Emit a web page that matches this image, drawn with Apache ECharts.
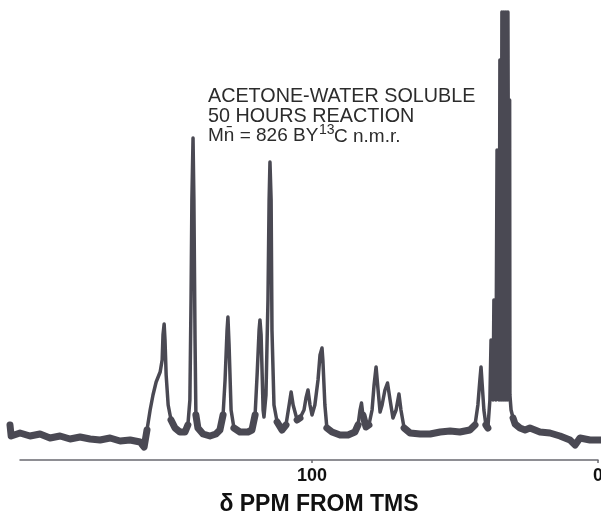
<!DOCTYPE html>
<html>
<head>
<meta charset="utf-8">
<script src="https://cdn.jsdelivr.net/npm/echarts@6/dist/echarts.min.js"></script>
<style>
html,body{margin:0;padding:0;background:#fff;}
#c{width:601px;height:515px;}
</style>
</head>
<body>
<div id="c"></div>
<script>
// chemical shift (ppm from TMS)
var ppm = [205.6,205.2,202.1,198.6,195.1,191.6,188.1,184.6,181.1,177.6,174.1,170.6,167.1,163.6,160.1,158.7,
  157.7,156.6,155.6,154.5,153.8,153.1,152.4,152.1,151.7,151.4,151.0,150.3,149.3,147.9,146.2,144.4,143.4,
  142.7,142.3,142.0,141.6,141.3,140.9,140.6,139.9,138.1,135.7,133.6,132.2,131.1,130.4,129.7,129.4,129.0,
  128.3,127.3,125.2,122.4,121.0,119.9,119.2,118.5,118.2,117.8,117.1,116.8,116.1,115.4,115.0,114.7,114.3,
  114.0,113.3,112.2,110.5,109.1,108.0,107.3,106.6,105.2,104.2,102.8,102.1,101.4,100.7,100.0,99.0,97.9,
  97.2,96.5,96.2,95.5,94.8,93.0,90.2,87.4,85.0,83.9,83.2,82.7,82.2,81.1,80.1,79.0,78.3,77.6,76.9,76.2,
  75.5,74.5,73.6,72.7,71.7,70.6,69.6,68.9,67.8,65.7,62.2,58.7,55.2,51.7,48.3,44.8,43.0,42.0,41.3,40.9,
  40.6,39.9,39.2,38.5,
  37.8,37.4,36.7,36.4,35.7,35.3,34.6,34.3,33.9,33.6,33.2,32.9,32.5,32.2,31.8,31.5,31.1,30.9,30.8,30.4,
  29.7,29.0,27.3,25.5,23.8,20.3,16.8,13.3,9.8,8.0,6.3,2.8,-0.7];
// signal intensity (arbitrary units)
var intensity = [35,24,27,24,26,22,24,21,23,21,20,22,19,20,18,13,
  30,50,65,78,83,88,100,125,136,120,85,55,40,32,28,28,35,
  60,160,260,322,260,120,45,32,26,24,26,30,45,80,130,143,115,
  50,32,28,28,30,45,85,130,140,125,50,43,65,160,260,298,260,
  130,55,38,30,35,55,68,55,40,42,50,62,70,55,45,55,80,
  105,112,100,55,32,28,25,25,28,35,50,57,45,33,35,50,75,93,70,48,
  55,70,77,60,42,50,66,50,32,27,26,26,28,29,28,30,35,55,80,93,
  80,50,35,32,
  60,120,60,160,60,310,60,400,60,448,60,448,60,448,60,448,60,360,65,50,
  42,36,32,30,32,28,27,24,20,15,22,20,20];
var tickValues = [0, 100];
var annotationLines = ['ACETONE-WATER SOLUBLE', '50 HOURS REACTION'];
var axisTitle = 'δ PPM FROM TMS';

var trace = ppm.map(function (p, i) { return [p, intensity[i]]; });
var band = ppm.map(function (p, i) { return [p, intensity[i] <= 45 ? intensity[i] : '-']; });

var ink = '#4a4953';
var txt = '#2c2c2c';
var chart = echarts.init(document.getElementById('c'), null, {renderer: 'canvas'});
chart.setOption({
  animation: false,
  backgroundColor: '#ffffff',
  grid: [
    {left: 10, right: 3, top: 10, bottom: 55, outerBoundsMode: 'none', containLabel: false},
    {left: 20, right: 3, top: 10, bottom: 55, outerBoundsMode: 'none', containLabel: false}
  ],
  xAxis: [
    {gridIndex: 0, type: 'value', inverse: true, min: 0, max: 205.6, show: false},
    {gridIndex: 1, type: 'value', inverse: true, min: 0, max: 202.1, interval: 100,
      axisLine: {show: true, lineStyle: {color: '#6a6a70', width: 1.5}},
      axisTick: {show: true, length: 3, customValues: tickValues, lineStyle: {color: '#6a6a70', width: 1.5}},
      axisLabel: {customValues: tickValues, margin: 7,
        fontSize: 18, fontWeight: 'bold', color: '#111', fontFamily: 'Liberation Sans',
        formatter: function (v) { return (Math.abs(v) < 1e-6 || Math.abs(v - 100) < 1e-6) ? String(Math.round(v)) : ''; }},
      splitLine: {show: false}}
  ],
  yAxis: [
    {gridIndex: 0, type: 'value', min: 0, max: 450, show: false},
    {gridIndex: 1, type: 'value', min: 0, max: 450, show: false}
  ],
  series: [
    {type: 'line', xAxisIndex: 0, yAxisIndex: 0, data: trace, clip: false, symbol: 'none', smooth: false,
      lineStyle: {color: ink, width: 3.5, join: 'round', cap: 'round'}},
    {type: 'line', xAxisIndex: 0, yAxisIndex: 0, data: band, clip: false, symbol: 'none', connectNulls: false,
      lineStyle: {color: ink, width: 7, join: 'round', cap: 'round'}}
  ],
  graphic: [
    {type: 'text', x: 208, y: 96.5, style: {text: annotationLines[0], font: '19.75px "Liberation Sans"', fill: txt,
      textAlign: 'left', align: 'left', textVerticalAlign: 'middle', verticalAlign: 'middle'}},
    {type: 'text', x: 208, y: 116.5, style: {text: annotationLines[1], font: '19.75px "Liberation Sans"', fill: txt,
      textAlign: 'left', align: 'left', textVerticalAlign: 'middle', verticalAlign: 'middle'}},
    {type: 'text', x: 208, y: 135.5, style: {text: 'Mn\u0304 = 826 BY', font: '19px "Liberation Sans"', fill: txt,
      textAlign: 'left', align: 'left', textVerticalAlign: 'middle', verticalAlign: 'middle'}},
    {type: 'text', x: 319, y: 130, style: {text: '13', font: '14px "Liberation Sans"', fill: txt,
      textAlign: 'left', align: 'left', textVerticalAlign: 'middle', verticalAlign: 'middle'}},
    {type: 'text', x: 334, y: 137, style: {text: 'C n.m.r.', font: '19px "Liberation Sans"', fill: txt,
      textAlign: 'left', align: 'left', textVerticalAlign: 'middle', verticalAlign: 'middle'}},
    {type: 'text', x: 319, y: 504.5, style: {text: axisTitle, font: 'bold 23px "Liberation Sans"', fill: '#111',
      textAlign: 'center', align: 'center', textVerticalAlign: 'middle', verticalAlign: 'middle'}}
  ]
});
</script>
</body>
</html>
